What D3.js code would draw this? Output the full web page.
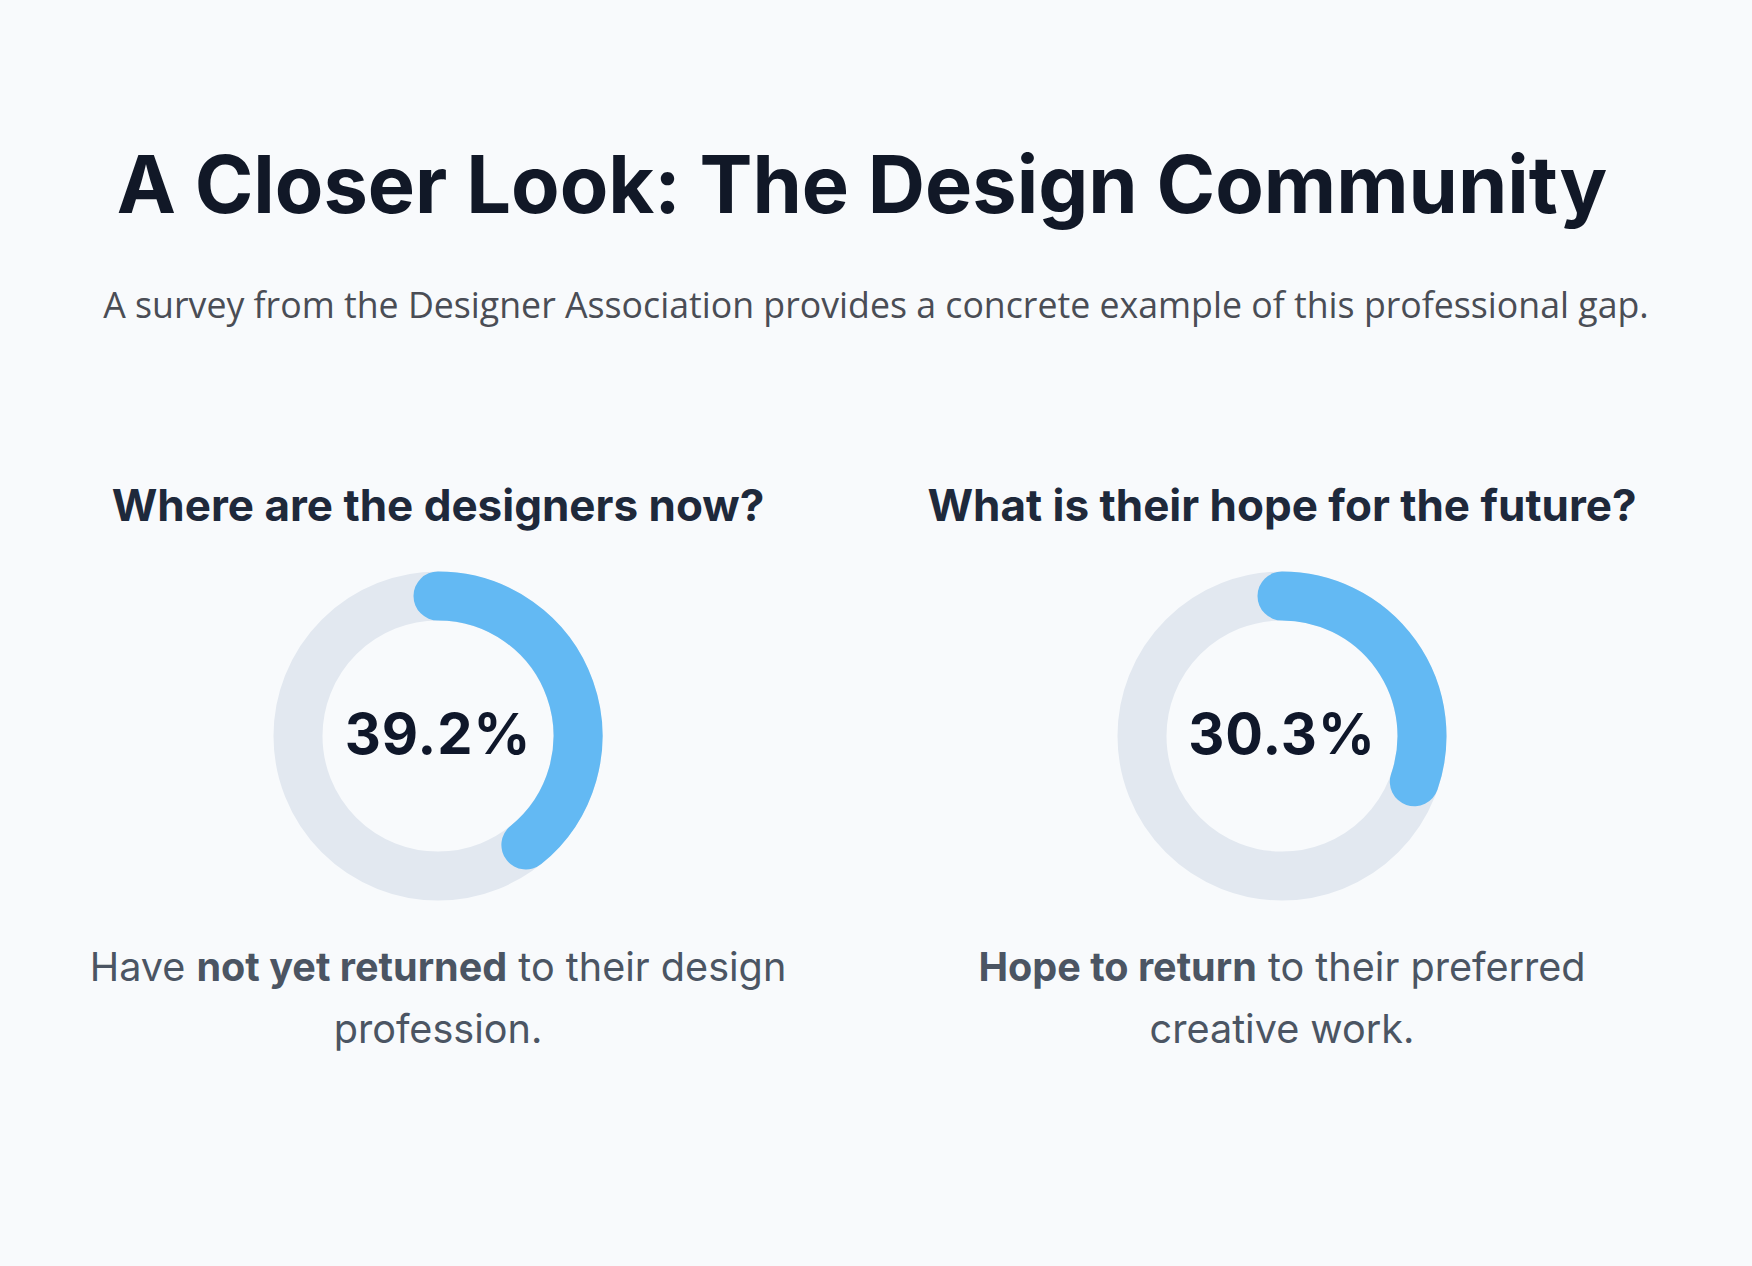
<!DOCTYPE html>
<html>
<head>
<meta charset="utf-8">
<script src="https://cdn.jsdelivr.net/npm/d3@7"></script>
<style>
  html, body { margin: 0; padding: 0; background: #f8fafc; }
  svg { display: block; }
</style>
</head>
<body>
<svg id="chart"></svg>
<script>
const width = 1752, height = 1266;

// Chart data
const titles = ["Where are the designers now?", "What is their hope for the future?"];
const values = [39.2, 30.3];
// caption lines: each line is a list of [text, bold] pieces
const captions = [
    [[["Have ", false], ["not yet returned", true], [" to their design", false]], [["profession.", false]]],
    [[["Hope to return", true], [" to their preferred", false]], [["creative work.", false]]]
];

const mainTitle = "A Closer Look: The Design Community";
const subTitle = "A survey from the Designer Association provides a concrete example of this professional gap.";

let svg = d3.select("#chart")
    .attr("width", width)
    .attr("height", height)
    .style("background", "#f8fafc");

// Title
svg.append("text")
    .attr("x", 862)
    .attr("y", 213)
    .attr("text-anchor", "middle")
    .style("font-family", "Inter, sans-serif")
    .style("font-weight", 700)
    .style("font-size", "79.3px")
    .style("fill", "#111827")
    .text(mainTitle);

svg.append("text")
    .attr("x", 876)
    .attr("y", 318)
    .attr("text-anchor", "middle")
    .style("font-family", "'Open Sans', sans-serif")
    .style("font-size", "35.7px")
    .style("fill", "#4a4d55")
    .text(subTitle);

// column positions
const x = d3.scalePoint()
    .domain(d3.range(values.length))
    .range([438, 1282]);

const cy = 736, ringR = 140, ringW = 49;

// percent -> angle
const angle = d3.scaleLinear().domain([0, 100]).range([0, 2 * Math.PI]);

// open arc from 12 o'clock, clockwise
function arcPath(v) {
    const p = d3.path();
    p.arc(0, 0, ringR, -Math.PI / 2, angle(v) - Math.PI / 2);
    return p.toString();
}

const cols = svg.selectAll("g.col")
    .data(values)
    .join("g")
    .attr("class", "col")
    .attr("transform", (d, i) => `translate(${x(i)},0)`);

cols.append("text")
    .attr("y", 521)
    .attr("text-anchor", "middle")
    .style("font-family", "Inter, sans-serif")
    .style("font-weight", 700)
    .style("font-size", "44px")
    .style("fill", "#1e293b")
    .text((d, i) => titles[i]);

const donut = cols.append("g")
    .attr("transform", `translate(0,${cy})`);

// track
donut.append("circle")
    .attr("r", ringR)
    .style("fill", "none")
    .style("stroke", "#e2e8f0")
    .style("stroke-width", ringW);

// value arc, round caps
donut.append("path")
    .attr("d", d => arcPath(d))
    .style("fill", "none")
    .style("stroke", "#63b9f3")
    .style("stroke-width", ringW)
    .style("stroke-linecap", "round");

donut.append("text")
    .attr("y", 18)
    .attr("text-anchor", "middle")
    .style("font-family", "Inter, sans-serif")
    .style("font-weight", 700)
    .style("font-size", "56px")
    .style("letter-spacing", "1px")
    .style("fill", "#0f172a")
    .text(d => d.toFixed(1) + "%");

// captions
const cap = cols.append("text")
    .attr("text-anchor", "middle")
    .style("font-family", "Inter, sans-serif")
    .style("font-size", "39.6px")
    .style("fill", "#4b5563");

cap.each(function(d, i) {
    const t = d3.select(this);
    captions[i].forEach((line, li) => {
        line.forEach((piece, pi) => {
            const s = t.append("tspan").text(piece[0]);
            if (pi === 0) s.attr("x", 0).attr("y", 981 + li * 62);
            if (piece[1]) s.style("font-weight", 700);
        });
    });
});
</script>
</body>
</html>
